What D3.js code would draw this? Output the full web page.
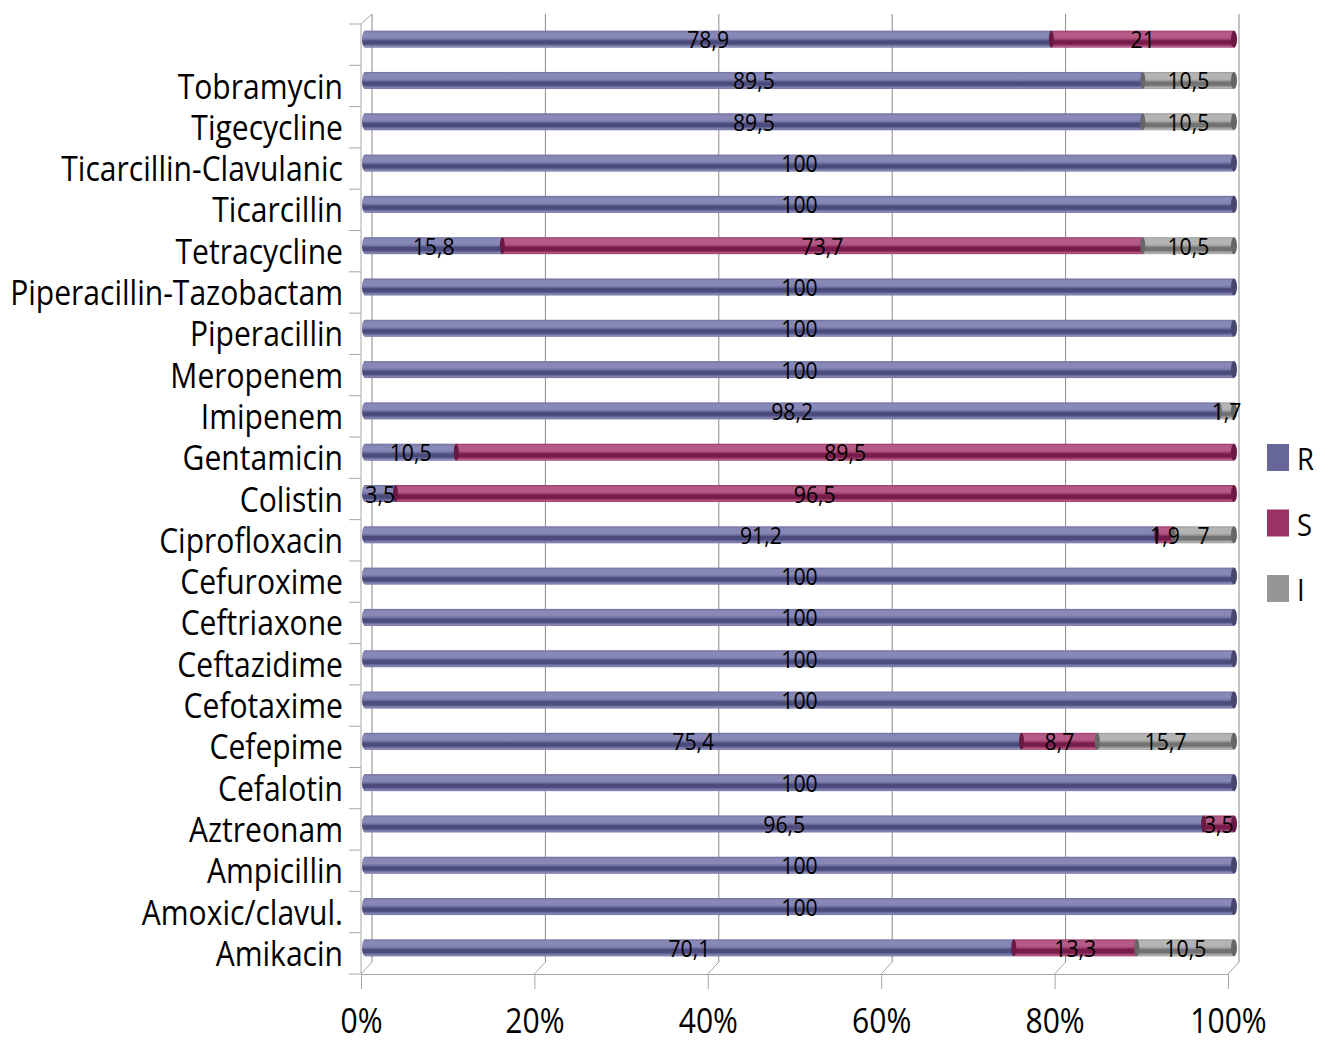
<!DOCTYPE html>
<html>
<head>
<meta charset="utf-8">
<script src="https://cdn.jsdelivr.net/npm/d3@7"></script>
<style>
  body { margin: 0; background: #fff; }
  svg text { font-family: "Open Sans", "Noto Sans", "DejaVu Sans", sans-serif; fill: #000; }
</style>
</head>
<body>
<svg id="chart" width="1330" height="1043"></svg>
<script>
// Antibiotic resistance profile (percent of isolates), top row to bottom row
const categories = ["", "Tobramycin", "Tigecycline", "Ticarcillin-Clavulanic", "Ticarcillin", "Tetracycline",
  "Piperacillin-Tazobactam", "Piperacillin", "Meropenem", "Imipenem", "Gentamicin", "Colistin",
  "Ciprofloxacin", "Cefuroxime", "Ceftriaxone", "Ceftazidime", "Cefotaxime", "Cefepime", "Cefalotin",
  "Aztreonam", "Ampicillin", "Amoxic/clavul.", "Amikacin"];
const resistant    = [78.9, 89.5, 89.5, 100, 100, 15.8, 100, 100, 100, 98.2, 10.5, 3.5, 91.2, 100, 100, 100, 100, 75.4, 100, 96.5, 100, 100, 70.1];
const susceptible  = [21, 0, 0, 0, 0, 73.7, 0, 0, 0, 0, 89.5, 96.5, 1.9, 0, 0, 0, 0, 8.7, 0, 3.5, 0, 0, 13.3];
const intermediate = [0, 10.5, 10.5, 0, 0, 10.5, 0, 0, 0, 1.7, 0, 0, 7, 0, 0, 0, 0, 15.7, 0, 0, 0, 0, 10.5];
const seriesNames = ["R", "S", "I"];
const xTickValues = [0, 0.2, 0.4, 0.6, 0.8, 1];

const palette = {
  R: { base: "#666699", light: "#8888b6", mid: "#6e6ea0", dark: "#4c4c7c", cap: "#46466f" },
  S: { base: "#993366", light: "#b45a86", mid: "#9c3c6b", dark: "#771c4a", cap: "#6a1a42" },
  I: { base: "#969696", light: "#b4b4b4", mid: "#9a9a9a", dark: "#727272", cap: "#666666" }
};

const table = categories.map((c, i) => ({ name: c, R: resistant[i], S: susceptible[i], I: intermediate[i] }));
const stacked = d3.stack().keys(seriesNames).offset(d3.stackOffsetExpand)(table);

const svg = d3.select("#chart");

// narrow lettering: squeeze text horizontally about its anchor point
function squeeze(sel, f) {
  sel.each(function () {
    const t = d3.select(this);
    const x = +t.attr("x") || 0, y = +t.attr("y") || 0;
    t.attr("x", 0).attr("y", 0).attr("transform", `translate(${x},${y}) scale(${f},1)`);
  });
}

// front plane and back wall of the pseudo-3D plot box
const depth = { dx: 11, dy: -11 };
const yFront = d3.scaleBand().domain(categories).range([24, 974]);
const xFront = d3.scaleLinear().domain([0, 1]).range([361, 1228]);
const xBack = d3.scaleLinear().domain([0, 1]).range([361 + depth.dx, 1228 + depth.dx]);
const xBar = d3.scaleLinear().domain([0, 1]).range([365, 1234]);
const barH = 17;
const barCenter = c => yFront(c) + yFront.bandwidth() / 2 + depth.dy / 2;

// gradients that give the bars their cylindrical shading
const defs = svg.append("defs");
seriesNames.forEach(k => {
  const p = palette[k];
  const g = defs.append("linearGradient").attr("id", "grad-" + k)
    .attr("x1", 0).attr("y1", 0).attr("x2", 0).attr("y2", 1);
  [[0, p.mid], [0.12, p.light], [0.4, p.light], [0.52, p.mid], [0.6, p.dark], [0.78, p.dark],
   [0.86, p.mid], [0.93, p.light], [1, p.mid]]
    .forEach(([o, c]) => g.append("stop").attr("offset", o).attr("stop-color", c));
});

const frame = svg.append("g").attr("fill", "none");
const backTop = 24 + depth.dy + 1;
const backBottom = 974 + depth.dy - 1;

// back-wall gridlines
frame.selectAll("line.grid").data(xTickValues).join("line")
  .attr("class", "grid")
  .attr("x1", d => xBack(d)).attr("x2", d => xBack(d))
  .attr("y1", backTop).attr("y2", backBottom)
  .attr("stroke", d => d === 1 ? "#c4c4c4" : "#8a8a8a")
  .attr("stroke-width", d => d === 1 ? 2 : 1);

// floor diagonals
frame.selectAll("line.floor").data(xTickValues).join("line")
  .attr("class", "floor")
  .attr("x1", d => xFront(d)).attr("y1", 974)
  .attr("x2", d => xBack(d)).attr("y2", backBottom)
  .attr("stroke", "#a6a6a6");

// left wall: front edge, diagonal and category dividers
frame.append("line").attr("x1", xFront(0)).attr("x2", xFront(0)).attr("y1", 24).attr("y2", 974).attr("stroke", "#a6a6a6");
frame.append("line").attr("x1", xFront(0)).attr("y1", 24).attr("x2", xBack(0)).attr("y2", backTop).attr("stroke", "#a6a6a6");
const dividers = d3.range(categories.length).map(i => yFront.range()[0] + i * yFront.step());
frame.selectAll("line.div").data(dividers).join("line")
  .attr("class", "div")
  .attr("x1", xFront(0) - 12).attr("x2", xFront(0))
  .attr("y1", d => d).attr("y2", d => d)
  .attr("stroke", "#a6a6a6");
frame.append("line").attr("x1", xFront(0) - 12).attr("x2", xFront(0)).attr("y1", 974).attr("y2", 974).attr("stroke", "#a6a6a6");

// category labels
const yAxis = d3.axisLeft(yFront).tickSize(0).tickPadding(18);
const gy = svg.append("g").attr("transform", `translate(${xFront(0)},0)`).call(yAxis);
gy.select(".domain").remove();
const catText = gy.selectAll(".tick text").attr("font-size", 34).attr("dy", "0.37em");
// condense factor so the longest name spans the label column
let longest = 0;
catText.each(function () { longest = Math.max(longest, this.getComputedTextLength()); });
const narrow = 333 / longest;
squeeze(catText, narrow);

// bottom axis (front floor edge)
const xAxis = d3.axisBottom(xFront).tickValues(xTickValues).tickFormat(d3.format(".0%"))
  .tickSizeInner(15).tickSizeOuter(0).tickPadding(20);
const gx = svg.append("g").attr("transform", "translate(0,974)").call(xAxis);
gx.select(".domain").attr("stroke", "#a6a6a6");
gx.selectAll(".tick line").attr("stroke", "#a6a6a6");
squeeze(gx.selectAll(".tick text").attr("font-size", 34).attr("dy", "0.71em"), narrow);

// bars
const bars = svg.append("g");
stacked.forEach(layer => {
  const k = layer.key;
  const p = palette[k];
  const g = bars.append("g").attr("class", "series-" + k);
  layer.forEach((seg, i) => {
    const c = categories[i];
    const v = table[i][k];
    if (!v) return;
    const x0 = xBar(seg[0]), x1 = xBar(seg[1]);
    const cy = barCenter(c);
    g.append("rect").attr("x", x0).attr("y", cy - barH / 2)
      .attr("width", Math.max(0, x1 - x0)).attr("height", barH)
      .attr("fill", `url(#grad-${k})`);
    if (seg[0] === 0) {
      g.append("ellipse").attr("cx", x0).attr("cy", cy).attr("rx", 3).attr("ry", barH / 2)
        .attr("fill", `url(#grad-${k})`);
    } else {
      g.append("ellipse").attr("cx", x0).attr("cy", cy).attr("rx", 2.5).attr("ry", barH / 2)
        .attr("fill", p.cap);
    }
    if (seg[1] > 0.999) {
      g.append("ellipse").attr("cx", x1).attr("cy", cy).attr("rx", 3).attr("ry", barH / 2)
        .attr("fill", p.cap);
    }
  });
});

// value labels centred on each segment
const fmt = v => String(v).replace(".", ",");
const labels = svg.append("g").attr("font-size", 24).attr("text-anchor", "middle");
stacked.forEach(layer => {
  const k = layer.key;
  layer.forEach((seg, i) => {
    const v = table[i][k];
    if (!v) return;
    labels.append("text")
      .attr("x", (xBar(seg[0]) + xBar(seg[1])) / 2)
      .attr("y", barCenter(categories[i]) + 9)
      .text(fmt(v));
  });
});
squeeze(labels.selectAll("text"), narrow);

// legend
const legend = svg.append("g").attr("transform", "translate(1267,444)");
const lg = legend.selectAll("g").data(seriesNames).join("g")
  .attr("transform", (d, i) => `translate(0,${i * 65.5})`);
lg.append("rect").attr("width", 22).attr("height", 27).attr("fill", d => palette[d].base);
squeeze(lg.append("text").attr("x", 30).attr("y", 26).attr("font-size", 31).text(d => d), narrow);
</script>
</body>
</html>
